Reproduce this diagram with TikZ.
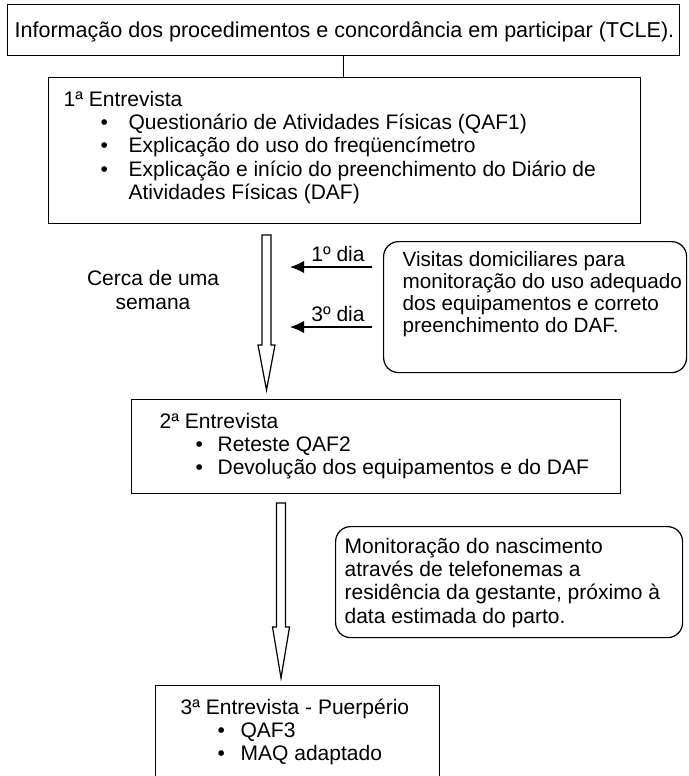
\documentclass[tikz,border=0pt]{standalone}
\usepackage{fontspec}
\setmainfont{Liberation Sans}
\usetikzlibrary{arrows.meta}

\newlength{\px}
\setlength{\px}{0.571pt}
% box content: width, height, top pad, left pad, lines
\newcommand{\boxtext}[5]{%
  \parbox[c][#2\px][t]{#1\px}{\vspace*{#3\px}\hspace*{#4\px}%
  \begin{tabular}[t]{@{}l@{}}#5\end{tabular}}}
\newcommand{\bul}[2]{\hspace*{#1\px}\makebox[#2\px][l]{\textbullet}}
% hollow arrow: x, top, start of head, tip
\newcommand{\hollowarrow}[4]{%
  \draw[hollow] (#1-4.5,#2) -- (#1+4.5,#2) -- (#1+4.5,#3) -- (#1+8.5,#3)
    -- (#1,#4) -- (#1-8.5,#3) -- (#1-4.5,#3) -- cycle;}

\begin{document}
\begin{tikzpicture}[x=\px,y=-\px]

\tikzstyle{box} = [
	draw, rectangle, anchor=north west, inner sep=0pt,
	line width=0.7pt, font=\fontsize{12}{13.4}\selectfont ];
\tikzstyle{rbox} = [box, rounded corners=15\px];
\tikzstyle{plain} = [inner sep=0pt, font=\fontsize{12}{13.4}\selectfont];
\tikzstyle{day} = [-{Latex[length=8pt,width=7pt]}, line width=0.7pt];
\tikzstyle{hollow} = [line width=0.7pt, line join=miter];
\path[use as bounding box, clip] (0,0) rectangle (688,776);

\node[box, font=\fontsize{12.3}{13.4}\selectfont] (info) at (7,4)
	{\boxtext{672}{51}{16}{7}{%
	Informação dos procedimentos e concordância em participar (TCLE).}};

\node[box] (ent1) at (48,77) {\boxtext{592}{146}{12}{15}{%
	1ª Entrevista\\
	\bul{37}{28}Questionário de Atividades Físicas (QAF1)\\
	\bul{37}{28}Explicação do uso do freqüencímetro\\
	\bul{37}{28}Explicação e início do preenchimento do Diário de\\
	\hspace*{65\px}Atividades Físicas (DAF)}};

\draw[line width=0.7pt] (info.south) -- (info.south |- ent1.north);

\node[rbox, font=\fontsize{11.8}{12.7}\selectfont] (visitas) at (383,241)
	{\boxtext{303}{131}{9}{19}{%
	Visitas domiciliares para\\
	monitoração do uso adequado\\
	dos equipamentos e correto\\
	preenchimento do DAF.}};

\hollowarrow{266.5}{235}{345}{390}
\node[plain, align=center] (semana) at (153,290) {Cerca de uma\\semana};

\coordinate (d1s) at (372,267);
\coordinate (d1e) at (290,267);
\draw[day] (d1s) -- node[plain, above=5\px, xshift=7\px] (d1lab) {1º dia} (d1e);
\coordinate (d3s) at (372,327);
\coordinate (d3e) at (290,327);
\draw[day] (d3s) -- node[plain, above=5\px, xshift=7\px] (d3lab) {3º dia} (d3e);

\node[box] (ent2) at (131,399) {\boxtext{489}{94}{12}{28}{%
	2ª Entrevista\\
	\bul{36}{22}Reteste QAF2\\
	\bul{36}{22}Devolução dos equipamentos e do DAF}};

\hollowarrow{281}{503}{627}{678}

\node[rbox] (nasc) at (335,526) {\boxtext{347}{111}{10}{9}{%
	Monitoração do nascimento\\
	através de telefonemas a\\
	residência da gestante, próximo à\\
	data estimada do parto.}};

\node[box] (ent3) at (155,685) {\boxtext{284}{100}{12}{25}{%
	3ª Entrevista - Puerpério\\
	\bul{37}{23}QAF3\\
	\bul{37}{23}MAQ adaptado}};

\end{tikzpicture}
\end{document}
